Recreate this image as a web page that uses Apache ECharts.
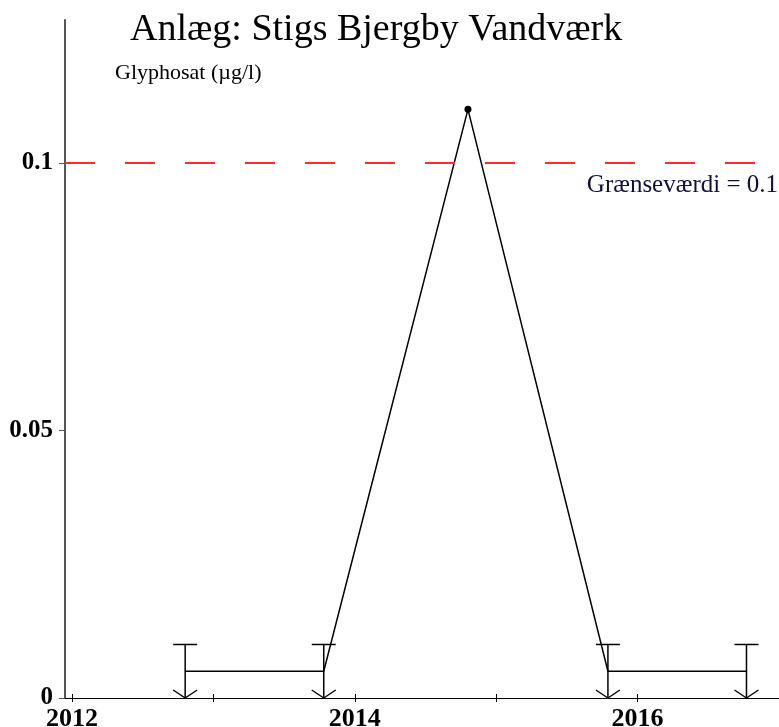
<!DOCTYPE html>
<html>
<head>
<meta charset="utf-8">
<style>
  html, body { margin: 0; padding: 0; background: #fff; }
  #chart { width: 779px; height: 727px; }
</style>
<script src="https://cdn.jsdelivr.net/npm/echarts@6/dist/echarts.min.js"></script>
</head>
<body>
<div id="chart"></div>
<script>
// sample dates (decimal years) and measured glyphosat values (µg/l)
var sampleYears = [2012.80, 2013.78, 2014.80, 2015.79, 2016.77];
var sampleValues = [0.005, 0.005, 0.11, 0.005, 0.005];
// samples below detection limit (plotted at half the limit)
var belowLimitYears = [2012.80, 2013.78, 2015.79, 2016.77];
var detectionLimit = 0.01;
var limitValue = 0.1;
var limitLabel = 'Grænseværdi = 0.1';
var yTicks = [0, 0.05, 0.1];
var xTickYears = [2012, 2013, 2014, 2015, 2016, 2017];
var xLabelYears = [2012, 2014, 2016];

var serif = '"Liberation Serif", "DejaVu Serif", serif';

var lineData = sampleYears.map(function (x, i) { return [x, sampleValues[i]]; });
var limitData = belowLimitYears.map(function (x) { return [x, detectionLimit]; });

var myChart = echarts.init(document.getElementById('chart'));
myChart.setOption({
  animation: false,
  backgroundColor: '#fff',
  title: {
    text: 'Anlæg: Stigs Bjergby Vandværk',
    left: 125,
    top: 6,
    textStyle: { fontFamily: serif, fontSize: 38, fontWeight: 'normal', color: '#000' }
  },
  grid: { left: 65, right: 0, top: 20, bottom: 29, containLabel: false, outerBoundsMode: 'none' },
  xAxis: [{
    type: 'value',
    min: 2011.95,
    max: 2017.0,
    axisLine: { lineStyle: { color: '#000', width: 1 } },
    axisTick: { length: 4, customValues: xTickYears, lineStyle: { color: '#000' } },
    splitLine: { show: false },
    axisLabel: {
      margin: 8,
      customValues: xLabelYears,
      formatter: function (v) { return String(v); },
      fontFamily: serif, fontSize: 26, fontWeight: 'bold', color: '#000'
    }
  }, {
    // duplicate axis only to draw the inner half of the ticks
    type: 'value',
    position: 'bottom',
    min: 2011.95,
    max: 2017.0,
    axisLine: { show: false },
    axisTick: { inside: true, length: 4, customValues: xTickYears, lineStyle: { color: '#000' } },
    axisLabel: { show: false },
    splitLine: { show: false }
  }],
  yAxis: {
    type: 'value',
    min: 0,
    max: 0.1267,
    name: 'Glyphosat (µg/l)',
    nameLocation: 'end',
    nameGap: 0,
    nameTextStyle: { fontFamily: serif, fontSize: 22, color: '#000', align: 'left', padding: [0, 0, -64, 50] },
    axisLine: { show: true, lineStyle: { color: '#555', width: 2 } },
    axisTick: { show: true, length: 6, customValues: yTicks, lineStyle: { color: '#555' } },
    splitLine: { show: false },
    axisLabel: {
      margin: 12,
      customValues: yTicks,
      formatter: function (v) { return String(v); },
      fontFamily: serif, fontSize: 25, fontWeight: 'bold', color: '#000'
    }
  },
  series: [{
    type: 'line',
    data: lineData,
    lineStyle: { color: '#000', width: 1.5 },
    showSymbol: true,
    symbol: function (val) { return val[1] > detectionLimit ? 'circle' : 'none'; },
    symbolSize: 7,
    itemStyle: { color: '#000' },
    z: 3,
    markLine: {
      silent: true,
      symbol: 'none',
      data: [{ yAxis: limitValue }],
      lineStyle: { color: '#ff2a2a', width: 2, type: [30, 30] },
      label: {
        show: true,
        position: 'insideEndBottom',
        distance: [1, 10],
        formatter: limitLabel,
        fontFamily: serif, fontSize: 25, color: '#10103a'
      }
    }
  }, {
    // detection limit markers: cap at limit, arrow down to zero
    type: 'custom',
    data: limitData,
    z: 4,
    renderItem: function (params, api) {
      var top = api.coord([api.value(0), api.value(1)]);
      var bot = api.coord([api.value(0), 0]);
      var x = top[0];
      var s = { stroke: '#000', lineWidth: 1.5 };
      return {
        type: 'group',
        children: [
          { type: 'line', shape: { x1: x, y1: top[1], x2: x, y2: bot[1] }, style: s },
          { type: 'line', shape: { x1: x - 12, y1: top[1], x2: x + 12, y2: top[1] }, style: s },
          { type: 'line', shape: { x1: x - 12, y1: bot[1] - 8, x2: x, y2: bot[1] }, style: s },
          { type: 'line', shape: { x1: x + 12, y1: bot[1] - 8, x2: x, y2: bot[1] }, style: s }
        ]
      };
    }
  }]
});
window.onresize = myChart.resize;
</script>
</body>
</html>
